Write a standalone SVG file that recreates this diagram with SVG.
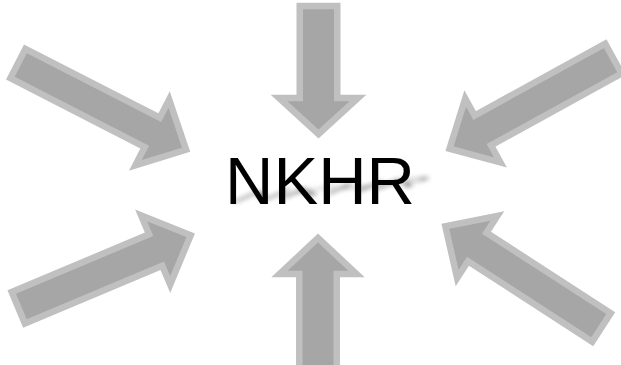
<svg xmlns="http://www.w3.org/2000/svg" width="621" height="365" viewBox="0 0 621 365">
<style>
.arrow{fill:#a6a6a6;stroke:#c0c0c0;stroke-width:6.5;stroke-linejoin:miter;stroke-miterlimit:10}
.label{font-family:"Liberation Sans",Arial,sans-serif;font-size:67px;fill:#000}
</style>
<defs>
<filter id="blur" x="-20%" y="-100%" width="140%" height="300%"><feGaussianBlur stdDeviation="2.5"/></filter>
</defs>
<rect width="621" height="365" fill="#fff"/>
<g id="connectors">
<g id="arrow-top"><path class="arrow" transform="translate(318.5,6) rotate(90)" d="M0,-18.75 L92,-18.75 L92,-39.5 L128,0 L92,39.5 L92,18.75 L0,18.75 Z"/></g>
<g id="arrow-bottom"><path class="arrow" transform="translate(318,370) rotate(-90)" d="M0,-18.75 L96,-18.75 L96,-38.5 L132,0 L96,38.5 L96,18.75 L0,18.75 Z"/></g>
<g id="arrow-upper-left"><path class="arrow" transform="translate(17.9,63.5) rotate(27.15)" d="M0,-16.5 L151,-16.5 L151,-37 L189,0 L151,37 L151,16.5 L0,16.5 Z"/></g>
<g id="arrow-upper-right"><path class="arrow" transform="translate(613.4,58.6) rotate(151.2)" d="M0,-17 L149,-17 L149,-36.5 L187,0 L149,36.5 L149,17 L0,17 Z"/></g>
<g id="arrow-lower-left"><path class="arrow" transform="translate(18.3,307.7) rotate(-22.8)" d="M0,-17 L149,-17 L149,-37.5 L187,0 L149,37.5 L149,17 L0,17 Z"/></g>
<g id="arrow-lower-right"><path class="arrow" transform="translate(601.5,327.4) rotate(-147.1)" d="M0,-17 L148,-17 L148,-37 L186,0 L148,37 L148,17 L0,17 Z"/></g>
</g>
<g id="node-nkhr">
<g filter="url(#blur)" opacity="0.55">
<text class="label" transform="matrix(1,-0.09,-0.5,0.22,226,203)" x="0" y="0">NKHR</text>
</g>
<text class="label" x="320" y="204" text-anchor="middle">NKHR</text>
</g>
</svg>
